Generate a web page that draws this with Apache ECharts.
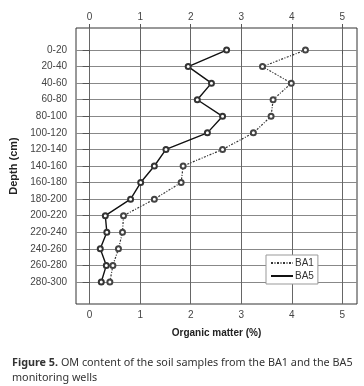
<!DOCTYPE html>
<html><head><meta charset="utf-8">
<style>html,body{margin:0;padding:0;background:#fff}#c{width:364px;height:386px}</style>
<script src="https://cdn.jsdelivr.net/npm/echarts@6/dist/echarts.min.js"></script>
</head><body><div id="c"></div>
<script>
const depths = ['0-20','20-40','40-60','60-80','80-100','100-120','120-140','140-160','160-180','180-200','200-220','220-240','240-260','260-280','280-300'];
const BA1 = [4.27,3.42,3.99,3.63,3.59,3.24,2.63,1.85,1.81,1.28,0.67,0.65,0.57,0.46,0.40];
const BA5 = [2.71,1.95,2.41,2.13,2.63,2.33,1.51,1.28,1.01,0.81,0.31,0.34,0.21,0.33,0.23];
const xTicks = [0,1,2,3,4,5];
const depthIdx = depths.map((d,i)=>i);

const chart = echarts.init(document.getElementById('c'), null, {renderer:'canvas'});
const labelFont = {fontFamily:'Liberation Sans, Arial, sans-serif', fontSize:10, color:'#444'};
function xAx(pos){
  return {
    type:'value', position:pos, min:-0.27, max:5.29,
    axisLine:{show:false},
    axisTick:{show:true, length:4, inside:false, customValues:xTicks, lineStyle:{color:'#555'}},
    axisLabel:Object.assign({customValues:xTicks, margin:6}, labelFont),
    splitLine:{show:pos==='bottom', lineStyle:{color:'#666', width:1}},
    name: pos==='bottom' ? 'Organic matter (%)' : '',
    nameLocation:'middle', nameGap:24,
    nameTextStyle:{fontFamily:'Liberation Sans, Arial, sans-serif', fontSize:10, fontWeight:'bold', color:'#222'}
  };
}
chart.setOption({
  backgroundColor:'#fff',
  animation:false,
  title:{
    left:12, top:355, padding:0,
    text:'{b|Figure 5.} OM content of the soil samples from the BA1 and the BA5\nmonitoring wells',
    textStyle:{fontFamily:'Noto Sans', fontSize:10.8, fontWeight:'normal', color:'#333', lineHeight:15,
      rich:{b:{fontFamily:'Noto Sans', fontSize:10.8, fontWeight:'bold', color:'#333', lineHeight:15}}}
  },
  grid:{left:72.7, right:7, top:28, height:276, show:true, borderColor:'#333', borderWidth:1, backgroundColor:'transparent'},
  legend:{
    orient:'vertical', left:266, top:255, width:53,
    data:['BA1','BA5'],
    itemWidth:22, itemHeight:8, itemGap:3,
    padding:[3,4,3,4],
    borderColor:'#999', borderWidth:1, backgroundColor:'#fff',
    itemStyle:{opacity:0},
    textStyle:{fontFamily:'Liberation Sans, Arial, sans-serif', fontSize:10, color:'#333', padding:[0,0,0,-3]}
  },
  xAxis:[xAx('bottom'), xAx('top')],
  yAxis:{
    type:'value', inverse:true, min:-1.33, max:15.33,
    axisLine:{show:false},
    axisTick:{show:true, length:7, customValues:depthIdx, lineStyle:{color:'#555'}},
    axisLabel:Object.assign({customValues:depthIdx, margin:9, formatter:v=>depths[v]}, labelFont),
    splitLine:{show:true, lineStyle:{color:'#888', width:1}},
    name:'Depth (cm)', nameLocation:'middle', nameGap:57,
    nameTextStyle:{fontFamily:'Liberation Sans, Arial, sans-serif', fontSize:11, fontWeight:'bold', color:'#222'}
  },
  series:[
    {name:'BA1', type:'line', data:BA1.map((v,i)=>[v,i]), symbol:'emptyCircle', symbolSize:5,
     lineStyle:{color:'#333', width:1.2, type:[2,1.5,1,1.5]}, itemStyle:{color:'#444', borderWidth:0.8}},
    {name:'BA5', type:'line', data:BA5.map((v,i)=>[v,i]), symbol:'emptyCircle', symbolSize:5,
     lineStyle:{color:'#111', width:1.4}, itemStyle:{color:'#333', borderWidth:0.8}}
  ]
});
</script></body></html>
